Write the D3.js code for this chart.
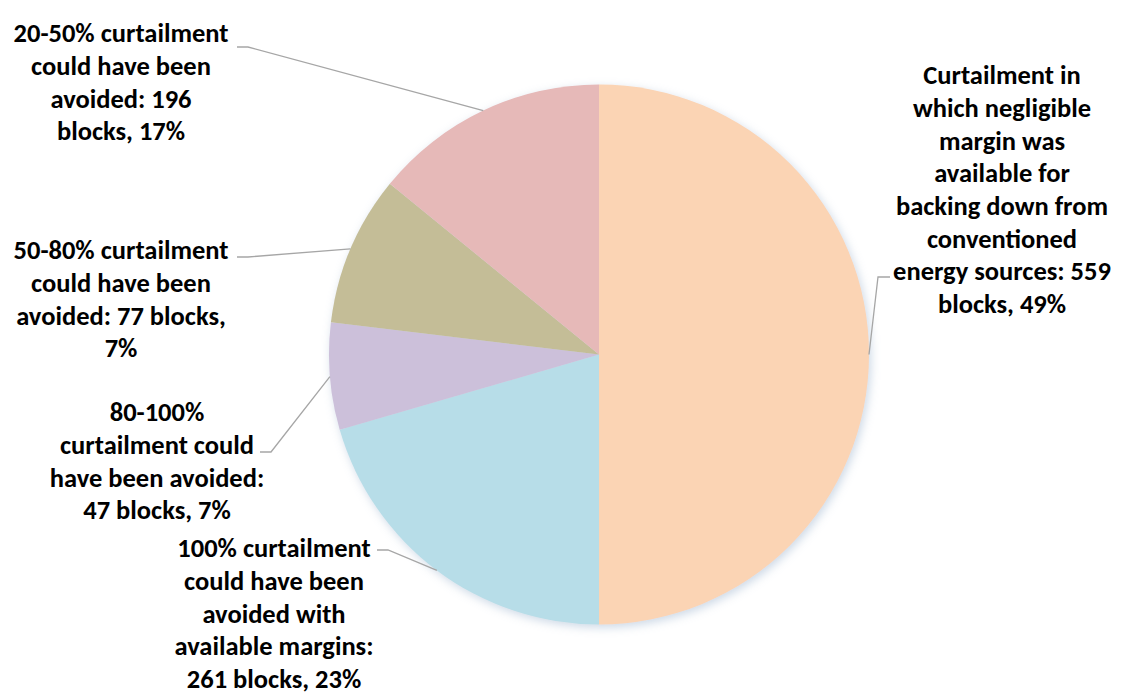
<!DOCTYPE html>
<html>
<head>
<meta charset="utf-8">
<script src="https://cdn.jsdelivr.net/npm/d3@7"></script>
<style>
  body { margin: 0; background: #fff; }
  svg text { font-family: Calibri, Carlito, "Open Sans", Lato, sans-serif; font-weight: 700; fill: #000; }
</style>
</head>
<body>
<div id="chart"></div>
<script>
// slices, clockwise from 12 o'clock
var categories = ["negligible margin", "100%", "80-100%", "50-80%", "20-50%"];
// share of the pie
var shares = [50.0, 20.5, 6.4, 9.0, 14.1];
var blocks = [559, 261, 47, 77, 196];
var pctText = ["49%", "23%", "7%", "7%", "17%"];
var colors = ["#FBD4B4", "#B7DDE8", "#CCC0DA", "#C4BD97", "#E6B9B8"];

// label text, as it wraps in the picture
var labelLines = [
  ["Curtailment in", "which negligible", "margin was", "available for", "backing down from", "conventioned", "energy sources: " + blocks[0], "blocks, " + pctText[0]],
  ["100% curtailment", "could have been", "avoided with", "available margins:", blocks[1] + " blocks, " + pctText[1]],
  ["80-100%", "curtailment could", "have been avoided:", blocks[2] + " blocks, " + pctText[2]],
  ["50-80% curtailment", "could have been", "avoided: " + blocks[3] + " blocks,", pctText[3]],
  ["20-50% curtailment", "could have been", "avoided: " + blocks[4], "blocks, " + pctText[4]]
];

var width = 1129, height = 697;
var cx = 599, cy = 354.5, radius = 270;
var lineH = 32.7;

// label boxes: centre x, first line y, leader start
var labelPos = [
  {x: 1002, y: 75, lx: 890, ly: 277, side: "right"},
  {x: 274, y: 548, lx: 377, ly: 550, side: "left"},
  {x: 157, y: 412, lx: 260, ly: 452, side: "left"},
  {x: 121, y: 250, lx: 237, ly: 257, side: "left"},
  {x: 121, y: 33, lx: 237, ly: 47, side: "left"}
];

var svg = d3.select("#chart").append("svg")
  .attr("width", width)
  .attr("height", height);

var defs = svg.append("defs");
var shadow = defs.append("filter").attr("id", "soft")
  .attr("x", "-10%").attr("y", "-10%").attr("width", "120%").attr("height", "120%");
shadow.append("feDropShadow")
  .attr("dx", 2).attr("dy", 3)
  .attr("stdDeviation", 5)
  .attr("flood-color", "#8fa9c8")
  .attr("flood-opacity", 0.45);

var pie = d3.pie().sort(null).value(function(d) { return d; });
var arcs = pie(shares);

var arc = d3.arc().innerRadius(0).outerRadius(radius);
var edge = d3.arc().innerRadius(radius).outerRadius(radius);

var g = svg.append("g").attr("transform", "translate(" + cx + "," + cy + ")");

g.append("g").attr("filter", "url(#soft)")
  .selectAll("path")
  .data(arcs)
  .enter()
  .append("path")
  .attr("d", arc)
  .attr("fill", function(d, i) { return colors[i]; });

// leader lines
svg.append("g").selectAll("path")
  .data(arcs)
  .enter()
  .append("path")
  .attr("fill", "none")
  .attr("stroke", "#a6a6a6")
  .attr("stroke-width", 1.3)
  .attr("d", function(d, i) {
    var p = labelPos[i];
    var e = edge.centroid(d);
    var stub = p.side == "left" ? p.lx + 11 : p.lx - 12;
    return "M" + p.lx + "," + p.ly + "L" + stub + "," + p.ly + "L" + (cx + e[0]) + "," + (cy + e[1]);
  });

// labels
var labels = svg.append("g").selectAll("text")
  .data(labelLines)
  .enter()
  .append("text")
  .attr("text-anchor", "middle")
  .attr("font-size", 26.5);

labels.each(function(lines, i) {
  var t = d3.select(this);
  lines.forEach(function(s, k) {
    t.append("tspan")
      .attr("x", labelPos[i].x)
      .attr("y", labelPos[i].y + k * lineH)
      .attr("dy", "0.35em")
      .text(s);
  });
});
</script>
</body>
</html>
